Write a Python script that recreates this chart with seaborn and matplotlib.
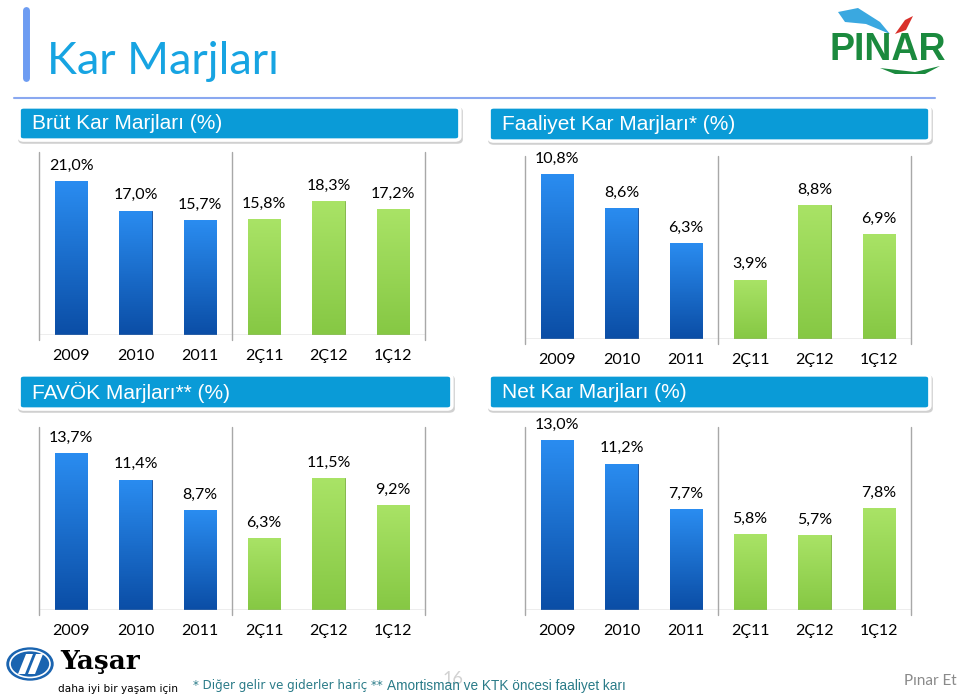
import matplotlib
matplotlib.use("Agg")
import matplotlib.pyplot as plt
import seaborn as sns
import numpy as np
from matplotlib.colors import LinearSegmentedColormap
from matplotlib.patches import FancyBboxPatch, Ellipse, Polygon

# --- data -------------------------------------------------------------
periods = ["2009", "2010", "2011", "2Ç11", "2Ç12", "1Ç12"]
period_kind = ["yıllık", "yıllık", "yıllık", "çeyrek", "çeyrek", "çeyrek"]

brut_kar = [21.0, 17.0, 15.7, 15.8, 18.3, 17.2]
faaliyet_kar = [10.8, 8.6, 6.3, 3.9, 8.8, 6.9]
favok = [13.7, 11.4, 8.7, 6.3, 11.5, 9.2]
net_kar = [13.0, 11.2, 7.7, 5.8, 5.7, 7.8]

panel_titles = ["Brüt Kar Marjları (%)", "Faaliyet Kar Marjları* (%)",
                "FAVÖK Marjları** (%)", "Net Kar Marjları (%)"]

# --- style ------------------------------------------------------------
sns.set_theme(style="white")
plt.rcParams["font.family"] = ["Lato", "DejaVu Sans"]

W, H = 960, 696
fig = plt.figure(figsize=(W / 100, H / 100), dpi=100)
fig.patch.set_facecolor("white")

BLUE_TOP, BLUE_BOT = "#2a8cf0", "#0b4ea6"
GREEN_TOP, GREEN_BOT = "#a9e366", "#86c844"
AXIS_GREY = "#a8a8a8"


def px_rect(x0, y0, x1, y1):
    """pixel box (top-left origin) -> figure fraction rect"""
    return [x0 / W, 1 - y1 / H, (x1 - x0) / W, (y1 - y0) / H]


def header(x0, y0, x1, y1, text):
    shadow = FancyBboxPatch((x0 / W, 1 - (y1 + 3) / H), (x1 - x0 + 2) / W, (y1 - y0 + 2) / H,
                            boxstyle="round,pad=0.004,rounding_size=0.006",
                            transform=fig.transFigure, facecolor="#d0d0d0",
                            edgecolor="none", zorder=1)
    fig.patches.append(shadow)
    box = FancyBboxPatch((x0 / W, 1 - y1 / H), (x1 - x0) / W, (y1 - y0) / H,
                         boxstyle="round,pad=0.003,rounding_size=0.005",
                         transform=fig.transFigure, facecolor="#0a9bd7",
                         edgecolor="white", linewidth=2.5, zorder=2)
    fig.patches.append(box)
    fig.text((x0 + 10) / W, 1 - (y0 + y1) / 2 / H, text, color="white",
             fontsize=15, family="Liberation Sans", va="center", ha="left", zorder=3)


def shade_bars(ax, kinds):
    for patch in ax.patches:
        x0, y0 = patch.get_x(), patch.get_y()
        w, h = patch.get_width(), patch.get_height()
        idx = int(round(x0 + w / 2))
        if kinds[idx] == "yıllık":
            cols = [BLUE_BOT, BLUE_TOP]
            patch.set_edgecolor("#0a4696")
        else:
            cols = [GREEN_BOT, GREEN_TOP]
            patch.set_edgecolor("#7ab03c")
        patch.set_linewidth(0.6)
        cmap = LinearSegmentedColormap.from_list("g", cols)
        grad = np.linspace(0, 1, 64).reshape(-1, 1)
        im = ax.imshow(grad, extent=(x0, x0 + w, y0, y0 + h), origin="lower",
                       cmap=cmap, aspect="auto", zorder=patch.get_zorder() + 0.1)
        im.set_clip_path(patch)


def margin_panel(rect, values, ymax):
    ax = fig.add_axes(rect)
    sns.barplot(x=periods, y=values, hue=period_kind,
                palette={"yıllık": BLUE_TOP, "çeyrek": GREEN_TOP},
                width=0.5, dodge=False, legend=False, ax=ax)
    shade_bars(ax, period_kind)
    ax.set_xlim(-0.5, 5.5)
    ax.set_ylim(0, ymax)
    for s in ax.spines.values():
        s.set_visible(False)
    ax.set_yticks([])
    ax.set_xlabel("")
    ax.set_ylabel("")
    ax.tick_params(axis="x", length=0, pad=10, labelsize=11.5, colors="black")
    # frame lines: baseline + separators between yearly and quarterly data
    ax.axhline(0, color=AXIS_GREY, lw=1.0, zorder=5)
    for xv in (-0.5, 2.5, 5.5):
        ax.plot([xv, xv], [-0.03 * ymax, ymax], color=AXIS_GREY, lw=1.0,
                clip_on=False, zorder=5)
    for i, v in enumerate(values):
        ax.annotate(f"{v:.1f}%".replace(".", ","), (i, v), xytext=(0, 11),
                    textcoords="offset points", ha="center", va="center",
                    fontsize=11.5, color="black")
    return ax


# --- page decoration ---------------------------------------------------
fig.add_artist(plt.Line2D([26 / W, 26 / W], [1 - 10 / H, 1 - 78 / H],
                          color="#6d9cf2", lw=5, transform=fig.transFigure))
fig.text(47 / W, 1 - 61 / H, "Kar Marjları", color="#17a4e2", fontsize=32.5,
         va="center", ha="left")
fig.add_artist(plt.Line2D([14 / W, 935 / W], [1 - 98 / H, 1 - 98 / H],
                          color="#8aa8f0", lw=1.5, transform=fig.transFigure))

# Pınar logo (approximation)
fig.patches.append(Polygon([(838 / W, 1 - 12 / H), (858 / W, 1 - 8 / H), (880 / W, 1 - 22 / H),
                            (890 / W, 1 - 34 / H), (866 / W, 1 - 24 / H), (845 / W, 1 - 22 / H)],
                           closed=True, transform=fig.transFigure,
                           facecolor="#3aa8e0", edgecolor="none"))
fig.patches.append(Polygon([(895 / W, 1 - 34 / H), (905 / W, 1 - 20 / H), (913 / W, 1 - 16 / H),
                            (906 / W, 1 - 30 / H)], closed=True, transform=fig.transFigure,
                           facecolor="#d9302a", edgecolor="none"))
fig.text(888 / W, 1 - 50 / H, "PINAR", color="#1b8a3e", fontsize=27,
         fontweight="heavy", family="Liberation Sans", ha="center", va="center")
fig.patches.append(Polygon([(880 / W, 1 - 68 / H), (915 / W, 1 - 72 / H), (940 / W, 1 - 66 / H),
                            (925 / W, 1 - 74 / H), (895 / W, 1 - 74 / H)], closed=True,
                           transform=fig.transFigure, facecolor="#1b8a3e", edgecolor="none"))

header(22, 109, 457, 138, panel_titles[0])
header(492, 109, 927, 139, panel_titles[1])
header(22, 377, 449, 407, panel_titles[2])
header(492, 377, 927, 407, panel_titles[3])

margin_panel(px_rect(39, 152, 425, 335), brut_kar, 25)
margin_panel(px_rect(525, 156, 911, 339), faaliyet_kar, 12)
margin_panel(px_rect(39, 427, 425, 610), favok, 16)
margin_panel(px_rect(525, 427, 911, 610), net_kar, 14)

# Yaşar logo (approximation)
fig.patches.append(Ellipse((30 / W, 1 - 664 / H), 46 / W, 32 / H, transform=fig.transFigure,
                           facecolor="#1a64b0", edgecolor="#1a64b0", lw=1))
fig.patches.append(Ellipse((30 / W, 1 - 664 / H), 40 / W, 27 / H, transform=fig.transFigure,
                           facecolor="none", edgecolor="white", lw=1.2))
for dx in (-6, 4):
    fig.patches.append(Polygon([((24 + dx) / W, 1 - 674 / H), ((31 + dx) / W, 1 - 674 / H),
                                ((39 + dx) / W, 1 - 654 / H), ((32 + dx) / W, 1 - 654 / H)],
                               closed=True, transform=fig.transFigure,
                               facecolor="white", edgecolor="none"))
fig.text(60 / W, 1 - 661 / H, "Yaşar", color="black", fontsize=19, fontweight="heavy",
         family="DejaVu Serif", ha="left", va="center")
fig.text(58 / W, 1 - 689 / H, "daha iyi bir yaşam için", color="black", fontsize=7.6,
         family="DejaVu Sans", ha="left", va="center")

# footnote, page number, footer
fig.text(453 / W, 1 - 679 / H, "16", color="#d2d2d2", fontsize=13, ha="center",
         va="center", zorder=0)
note1 = fig.text(193 / W, 1 - 686 / H, "* Diğer gelir ve giderler hariç **", color="#2a7b88",
                 fontsize=8.6, family="DejaVu Sans", ha="left", va="center")
renderer = fig.canvas.get_renderer()
x_end = note1.get_window_extent(renderer).x1
fig.text((x_end + 4) / W, 1 - 686 / H, "Amortisman ve KTK öncesi faaliyet karı",
         color="#2a7b88", fontsize=9.8, family="Liberation Sans", ha="left", va="center")
fig.text(957 / W, 1 - 681 / H, "Pınar Et", color="#8a8a8a", fontsize=11,
         ha="right", va="center")

fig.savefig("out.png", dpi=100)
